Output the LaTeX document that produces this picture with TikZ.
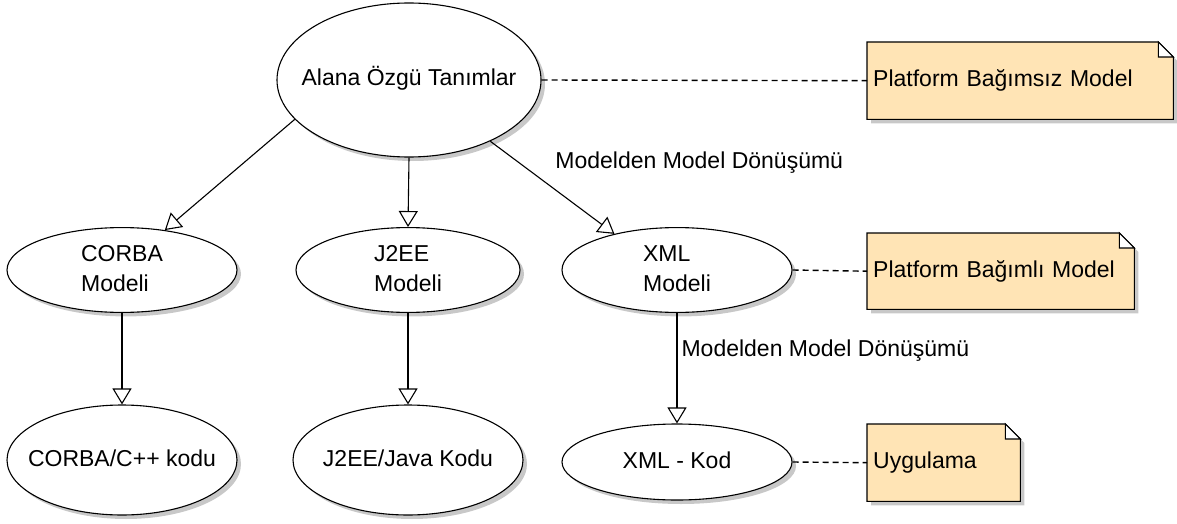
\documentclass[tikz,border=0pt]{standalone}
\usepackage{fontspec}
\setmainfont{Liberation Sans}
\usetikzlibrary{shapes.geometric,arrows.meta,shadows}
\definecolor{notefill}{HTML}{FFE4B5}
\definecolor{shadowgray}{HTML}{C8C8C8}
\pgfdeclarelayer{background}
\pgfsetlayers{background,main}
\newcommand{\umlnote}[1]{%
  \fill[shadowgray] ([shift={(4pt,-4pt)}]#1.north west) -- ([shift={(-11pt,-4pt)}]#1.north east) -- ([shift={(4pt,-19pt)}]#1.north east) -- ([shift={(4pt,-4pt)}]#1.south east) -- ([shift={(4pt,-4pt)}]#1.south west) -- cycle;
  \filldraw[fill=notefill, draw=black, line width=1.1pt] (#1.north west) -- ([xshift=-15pt]#1.north east) -- ([yshift=-15pt]#1.north east) -- (#1.south east) -- (#1.south west) -- cycle;
  \filldraw[fill=white, draw=black, line width=1.1pt] ([xshift=-15pt]#1.north east) -- ([shift={(-15pt,-15pt)}]#1.north east) -- ([yshift=-15pt]#1.north east) -- cycle;
}
\newcommand{\ztext}[1]{\makebox[0pt][c]{\begin{tabular}{@{}l@{}}#1\end{tabular}}}
\begin{document}
\begin{tikzpicture}[x=1pt,y=-1pt,
  font=\fontsize{23}{30}\selectfont,
  usecase/.style={ellipse, draw=black, line width=1.1pt, fill=white, inner sep=0pt,
     drop shadow={shadow xshift=4pt, shadow yshift=-4pt, fill=shadowgray, opacity=1}},
  notebox/.style={rectangle, inner xsep=6pt, inner ysep=0pt, anchor=north west, align=left},
  gen/.style={draw, line width=1.1pt, -{Triangle[open, length=16pt, width=19pt, line width=1.1pt]}},
  trace/.style={draw, line width=1.4pt, dash pattern=on 6pt off 4pt},
  lbl/.style={inner sep=0pt, anchor=west}
]
\useasboundingbox (0,0) rectangle (1177,524);

% use cases
\node[usecase, minimum width=264pt, minimum height=154pt] (top) at (409,80) {\ztext{Alana Özgü Tanımlar}};
\node[usecase, minimum width=230pt, minimum height=76pt] (corba) at (122,270) {\ztext{CORBA\\Modeli}};
\node[usecase, minimum width=224pt, minimum height=76pt] (j2ee) at (408,270) {\ztext{J2EE\\Modeli}};
\node[usecase, minimum width=230pt, minimum height=76pt] (xml) at (677,270) {\ztext{XML\\Modeli}};
\node[usecase, minimum width=230pt, minimum height=110pt] (corbakod) at (122,460) {\ztext{CORBA/C++ kodu}};
\node[usecase, minimum width=230pt, minimum height=110pt] (j2eekod) at (408,460) {\ztext{J2EE/Java Kodu}};
\node[usecase, minimum width=230pt, minimum height=76pt] (xmlkod) at (677,462) {\ztext{XML - Kod}};

% notes
\node[notebox, text width=294pt, minimum height=77pt] (n1) at (867,42) {Platform Bağımsız Model};
\node[notebox, text width=255pt, minimum height=76pt] (n2) at (867,233) {Platform Bağımlı Model};
\node[notebox, text width=141pt, minimum height=77pt] (n3) at (867,424) {Uygulama};
\begin{pgfonlayer}{background}
  \umlnote{n1}
  \umlnote{n2}
  \umlnote{n3}
\end{pgfonlayer}

% generalization arrows
\draw[gen] (top.199) -- (corba.43);
\draw[gen] (top.south) -- (j2ee.north);
\draw[gen] (top.323) -- node[lbl, pos=0.23, xshift=36pt] {Modelden Model Dönüşümü} (xml.150);
\draw[gen] (corba.south) -- (corbakod.north);
\draw[gen] (j2ee.south) -- (j2eekod.north);
\draw[gen] (xml.south) -- node[lbl, pos=0.345, xshift=4pt] {Modelden Model Dönüşümü} (xmlkod.north);

% note links
\draw[trace] (top.east) -- (n1.west);
\draw[trace] (xml.east) -- (n2.west);
\draw[trace] (xmlkod.east) -- (n3.west);
\end{tikzpicture}
\end{document}
